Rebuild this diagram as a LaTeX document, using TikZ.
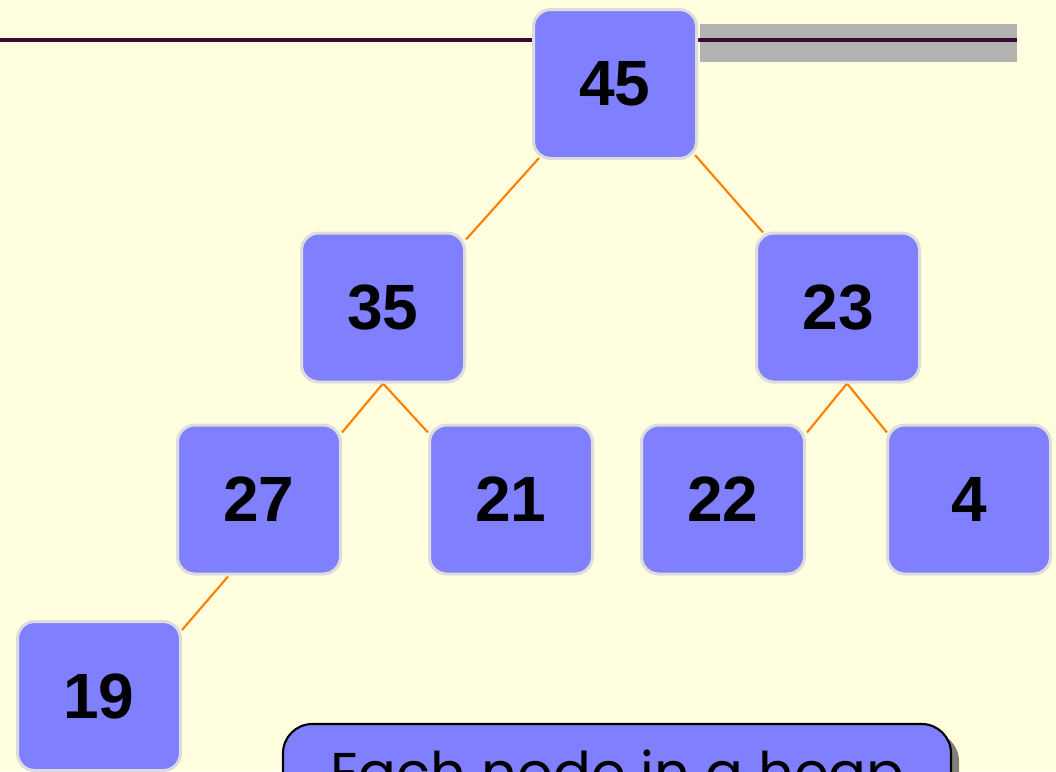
\documentclass[tikz,border=0pt]{standalone}
\usepackage{fontspec}
\setmainfont{Liberation Sans}
\newfontfamily\calloutfont{Poppins}
\usetikzlibrary{calc}
\pgfdeclarelayer{bglayer}
\pgfdeclarelayer{edgelayer}
\pgfsetlayers{bglayer,edgelayer,main}
\definecolor{bgyellow}{HTML}{FFFFE0}
\definecolor{nodefill}{HTML}{8080FF}
\definecolor{nodeborder}{HTML}{DCDCDC}
\definecolor{edgeorange}{HTML}{FF8000}
\definecolor{barline}{HTML}{3A0A30}
\definecolor{bargrey}{HTML}{B2B2B2}
\definecolor{shadowgrey}{HTML}{808078}
\begin{document}
\begin{tikzpicture}[x=0.75pt,y=-0.75pt,
  heapnode/.style={draw=nodeborder, line width=2.25pt, fill=nodefill,
    rounded corners=13pt, minimum width=122.25pt, minimum height=111.75pt,
    inner sep=0pt, font=\fontsize{48}{48}\selectfont\bfseries, text=black},
  heapedge/.style={draw=edgeorange, line width=1.6pt},
  calloutbox/.style={draw=black, line width=1.6pt, fill=nodefill, rounded corners=22pt},
  calloutshadow/.style={fill=shadowgrey, rounded corners=22pt}]
\useasboundingbox (0,0) rectangle (1056,771);
\begin{pgfonlayer}{bglayer}
  \fill[bgyellow] (0,0) rectangle (1056,771);
\end{pgfonlayer}
% top bar
\fill[bargrey] (700,24) rectangle (1017,62);
\draw[barline, line width=3pt] (0,40) -- (1017,40);
% nodes
\node[heapnode] (n45) at (615,84) {45};
\node[heapnode] (n35) at (383,307.5) {35};
\node[heapnode] (n23) at (838,307.5) {23};
\node[heapnode] (n27) at (259,499.5) {27};
\node[heapnode] (n21) at (511,499.5) {21};
\node[heapnode] (n22) at (723,499.5) {22};
\node[heapnode] (n4) at (969,499.5) {4};
\node[heapnode] (n19) at (99,696) {19};
% edges
\begin{pgfonlayer}{edgelayer}
  \draw[heapedge] ($(n45.south west)+(7,-2)$) -- ($(n35.north east)+(0,8)$);
  \draw[heapedge] ($(n45.south east)+(-3,-5)$) -- ($(n23.north west)+(8,1)$);
  \draw[heapedge] (n35.south) -- ($(n27.north east)+(0,9)$);
  \draw[heapedge] (n35.south) -- ($(n21.north west)+(0,9)$);
  \draw[heapedge] ($(n23.south)+(9,0)$) -- ($(n22.north east)+(1,9)$);
  \draw[heapedge] ($(n23.south)+(9,0)$) -- ($(n4.north west)+(1,9)$);
  \draw[heapedge] ($(n27.south)+(-31,1)$) -- ($(n19.north east)+(0,10)$);
\end{pgfonlayer}
% callout
\path[calloutshadow] (291,732) rectangle (959,900);
\path[calloutbox] (283,724) rectangle (951,892);
\node[anchor=base west, inner sep=0pt, font=\calloutfont\fontsize{42}{42}\selectfont] (calltext) at (330,792) {Each node in a heap};
\end{tikzpicture}
\end{document}
